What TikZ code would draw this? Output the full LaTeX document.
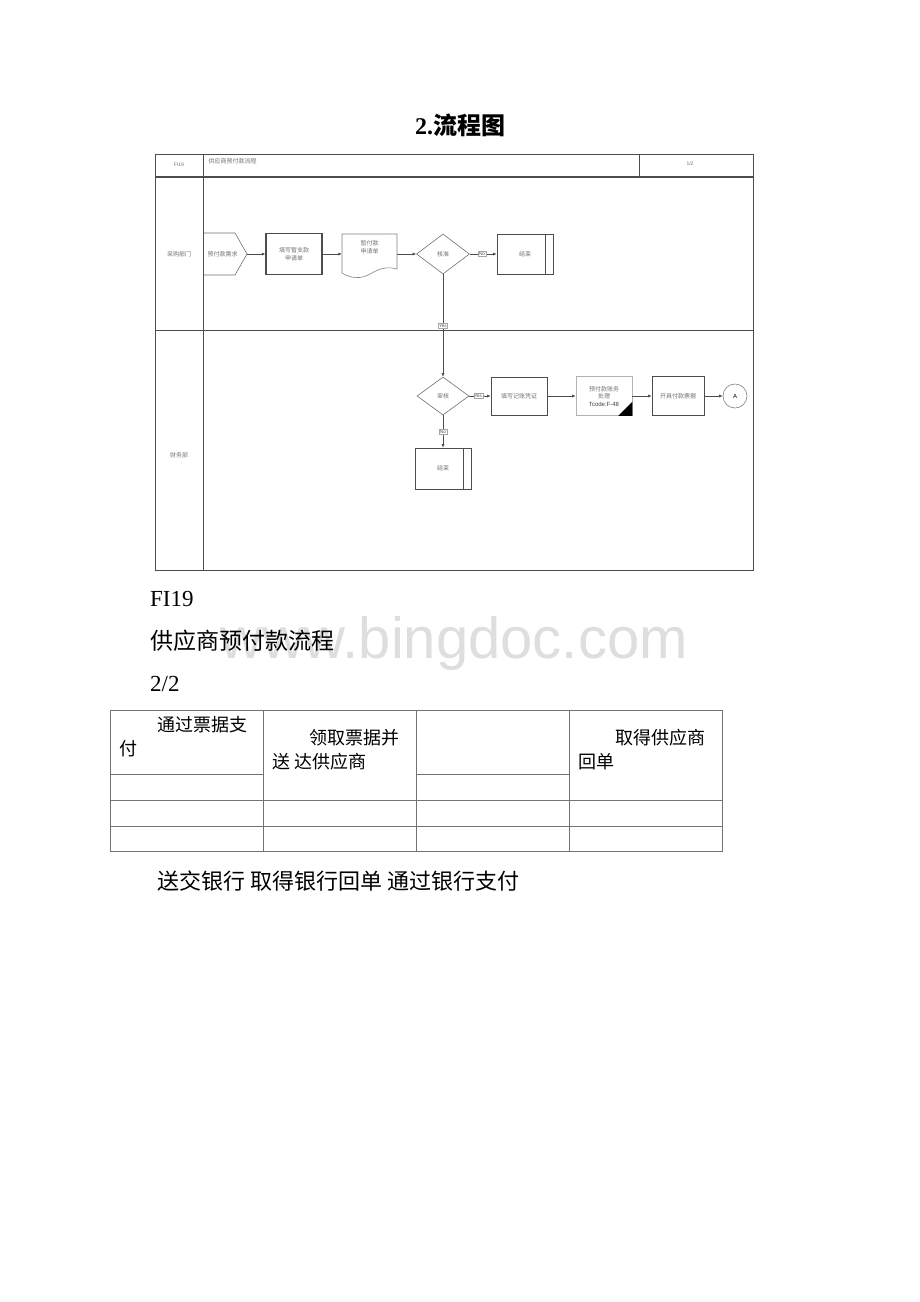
\documentclass[tikz,border=0pt]{standalone}
\usepackage{fontspec}
\setmainfont{Liberation Serif}
\newfontfamily\cjk{Noto Sans CJK SC}
\newfontfamily\wmfont{Liberation Sans}
\usetikzlibrary{arrows.meta,shapes.geometric}
\definecolor{linec}{gray}{0.3}
\definecolor{tinyc}{gray}{0.45}
\definecolor{tablec}{gray}{0.45}
\definecolor{wmc}{gray}{0.87}
\begin{document}
\begin{tikzpicture}[x=1pt,y=-1pt,
  tinytext/.style={font=\cjk\fontsize{6}{7.5}\selectfont, text=tinyc, align=center},
  proc/.style={tinytext, rectangle, draw=linec, line width=0.7pt, minimum width=56, minimum height=40, inner sep=1pt},
  decis/.style={tinytext, diamond, draw=linec!80, line width=0.6pt, minimum width=53, minimum height=40, inner sep=0pt},
  arr/.style={-{Latex[length=3.5pt,width=3pt]}, draw=linec, line width=0.6pt},
  lbl/.style={font=\wmfont\fontsize{4.5}{5}\selectfont, text=black!70, fill=white, draw=black!35, line width=0.3pt, inner sep=0.9pt},
  framel/.style={draw=linec, line width=0.9pt},
  tabl/.style={draw=tablec, line width=0.9pt},
  body/.style={font=\cjk\fontsize{18}{22}\selectfont, anchor=base west, inner sep=0pt}
]
\useasboundingbox[fill=white] (0,0) rectangle (920,1302);

% title
\node[font=\bfseries\fontsize{24}{28}\selectfont] (title) at (460,125) {2.{\cjk\bfseries 流程图}};

% frame
\draw[framel] (155,154) rectangle (753,570);
\draw[draw=linec, line width=1.6pt] (155,177) -- (753,177);
\draw[framel] (203,154) -- (203,570);
\draw[framel] (639,154) -- (639,177);
\draw[draw=linec, line width=0.8pt] (155,330) -- (753,330);

\node[tinytext, font=\wmfont\fontsize{5}{6}\selectfont] (hid) at (179,165) {FI19};
\node[tinytext, anchor=west] (hname) at (205,161) {供应商预付款流程};
\node[tinytext, font=\wmfont\fontsize{5}{6}\selectfont] (hpage) at (690,164) {1/2};
\node[tinytext] (lane1) at (179,254) {采购部门};
\node[tinytext] (lane2) at (179,455) {财务部};

% lane 1
\node[tinytext, rectangle, minimum width=43, minimum height=42, inner sep=0pt] (start) at (225.5,254) {\hspace*{-6pt}预付款需求};
\draw[draw=linec!80, line width=0.6pt] (204,233) -- (235,233) -- (247,254) -- (235,275) -- (204,275);
\node[proc, line width=1.2pt, minimum height=41] (p1) at (294,254) {填写暂支款\\申请单};
\node[tinytext, rectangle, minimum width=55, minimum height=40, inner sep=0pt] (doc) at (369.5,254) {};
\draw[draw=linec!70, line width=0.6pt] (342,234) -- (397,234) -- (397,269)
   .. controls (390,267) and (382,267) .. (372,273)
   .. controls (365,277) and (355,281) .. (342,273) -- cycle;
\node[tinytext] (doct) at (369.5,247) {暂付款\\申请单};
\node[decis] (d1) at (443,254) {核准};
\node[proc] (end1) at (525,254) {结束};
\draw[draw=linec, line width=0.7pt] (545,234) -- (545,274);

\draw[arr] (start) -- (p1);
\draw[arr] (p1) -- (doc);
\draw[arr] (doc) -- (d1);
\draw[arr] (d1) -- node[lbl, pos=0.45] (no1) {No} (end1);

% lane 2
\node[decis, minimum width=52, minimum height=38] (d2) at (443,396) {审核};
\node[proc, minimum height=38] (p2) at (519,396) {填写记账凭证};
\node[proc, draw=black!30, minimum height=39] (p3) at (604,396) {预付款账务\\处理\\{\wmfont\fontsize{6}{7.5}\selectfont\color{black!75}Tcode:F-48}};
\fill[black] (p3.south east) -- ([yshift=14pt]p3.south east) -- ([xshift=-14pt]p3.south east) -- cycle;
\node[proc, minimum width=52, minimum height=39] (p4) at (678,396) {开具付款票据};
\node[circle, draw=linec!70, line width=0.6pt, minimum size=24, inner sep=0pt, font=\wmfont\fontsize{6}{7}\selectfont] (ca) at (735,396) {A};
\node[proc, minimum height=41] (end2) at (443,468.5) {结束};
\draw[draw=linec, line width=0.7pt] (463,448) -- (463,489);

\draw[arr] (d1) -- node[lbl, pos=0.5] (yes1) {Yes} (d2);
\draw[arr] (d2) -- node[lbl, pos=0.42] (yes2) {Yes} (p2);
\draw[arr] (p2) -- (p3);
\draw[arr] (p3) -- (p4);
\draw[arr] (p4) -- (ca);
\draw[arr] (d2) -- node[lbl, pos=0.5] (no2) {No} (end2);

% text below
\node[font=\fontsize{23}{27}\selectfont, anchor=base west, inner sep=0pt] (fi) at (150,606) {FI19};
\node[font=\wmfont\fontsize{58}{66}\selectfont, text=wmc, anchor=base west, inner sep=0pt] (wm) at (220,658) {www.bingdoc.com};
\node[font=\cjk\fontsize{23}{27}\selectfont, anchor=base west, inner sep=0pt] (ptitle) at (150,649) {供应商预付款流程};
\node[font=\fontsize{23}{27}\selectfont, anchor=base west, inner sep=0pt] (pg) at (150,691) {2/2};

% table
\draw[tabl] (110,710) rectangle (722,851);
\draw[tabl] (263,710) -- (263,851);
\draw[tabl] (416,710) -- (416,851);
\draw[tabl] (569,710) -- (569,851);
\draw[tabl] (110,800) -- (722,800);
\draw[tabl] (110,826) -- (722,826);
\draw[tabl] (110,774) -- (263,774);
\draw[tabl] (416,774) -- (569,774);

\node[body] (c1a) at (157,731) {通过票据支};
\node[body] (c1b) at (119,755) {付};
\node[body] (c2a) at (309,744) {领取票据并};
\node[body] (c2b) at (272,768) {送 达供应商};
\node[body] (c4a) at (615,744) {取得供应商};
\node[body] (c4b) at (578,768) {回单};

\node[font=\cjk\fontsize{22}{26}\selectfont, anchor=base west, inner sep=0pt] (btm) at (157,889) {送交银行 取得银行回单 通过银行支付};
\end{tikzpicture}
\end{document}
